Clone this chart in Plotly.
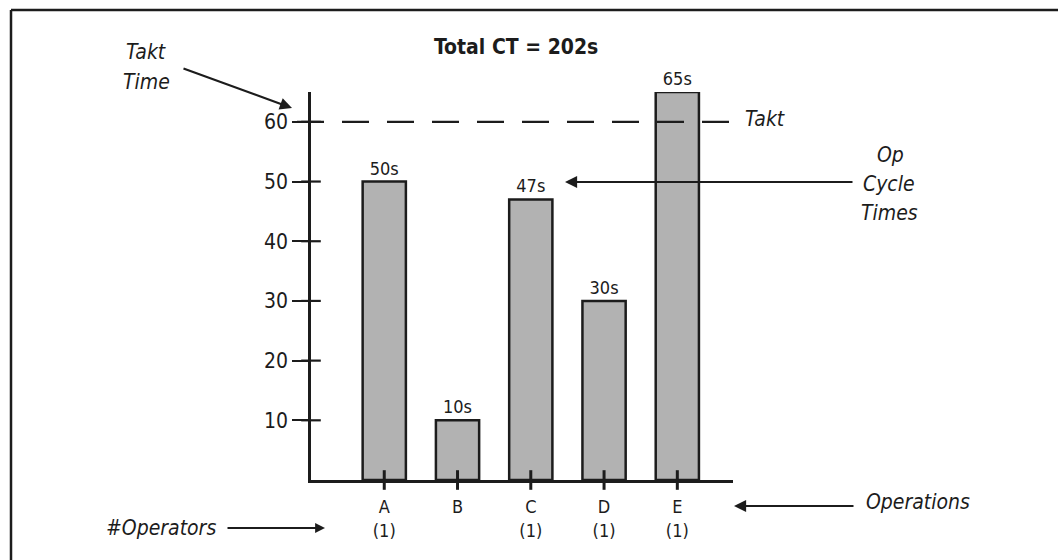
import plotly.graph_objects as go

# Operation cycle times (seconds) and operators per operation
operations = ["A", "B", "C", "D", "E"]
cycle_times = [50, 10, 47, 30, 65]
operators = ["(1)", "", "(1)", "(1)", "(1)"]
takt_time = 60
y_ticks = [10, 20, 30, 40, 50, 60]

total_ct = sum(cycle_times)

W, H = 1058, 560
L, R, T, B = 311, 733, 92, 480  # plot area in pixels
FONT = "DejaVu Sans Condensed, sans-serif"
INK = "#1c1c1c"


def px(x):
    return (x - L) / (R - L)


def py(y):
    return (B - y) / (B - T)


x_pos = list(range(len(operations)))
tick_text = [f"{o}<br>{n}" if n else o for o, n in zip(operations, operators)]

fig = go.Figure()

fig.add_trace(go.Bar(
    x=x_pos, y=cycle_times, width=0.59,
    marker=dict(color="#b2b2b2", line=dict(color=INK, width=2.5)),
    text=[f"{v}s" for v in cycle_times], textposition="outside",
    textfont=dict(family=FONT, size=18, color=INK),
    cliponaxis=False, showlegend=False, hoverinfo="skip",
))

# crossing tick marks on the y axis (left part drawn as axis ticks)
fig.add_trace(go.Scatter(
    x=[-1] * len(y_ticks), y=y_ticks, mode="markers",
    marker=dict(symbol="line-ew", size=14, line=dict(color=INK, width=2.2)),
    cliponaxis=False, showlegend=False, hoverinfo="skip",
))

# tick marks under each operation
fig.add_trace(go.Scatter(
    x=x_pos, y=[0] * len(x_pos), mode="markers",
    marker=dict(symbol="line-ns", size=14, line=dict(color=INK, width=3)),
    cliponaxis=False, showlegend=False, hoverinfo="skip",
))

# takt time line
fig.add_shape(type="line", xref="paper", yref="y",
              x0=px(297), x1=1.0, y0=takt_time, y1=takt_time,
              line=dict(color=INK, width=2.2, dash="27px,18px"), layer="above")

# outer frame (left and top edges)
fig.add_shape(type="line", xref="paper", yref="paper",
              x0=px(11), x1=px(11), y0=py(10), y1=py(575),
              line=dict(color=INK, width=2.5))
fig.add_shape(type="line", xref="paper", yref="paper",
              x0=px(11), x1=px(1075), y0=py(10), y1=py(10),
              line=dict(color=INK, width=2.5))


def arrow(tail, head, width=2.2):
    fig.add_annotation(
        xref="paper", yref="paper", x=px(head[0]), y=py(head[1]),
        ax=tail[0] - head[0], ay=tail[1] - head[1], axref="pixel", ayref="pixel",
        text="", showarrow=True, arrowhead=2, arrowsize=1.1, arrowwidth=width,
        arrowcolor=INK, standoff=0, startstandoff=0,
    )


def label(text, x, y, size=21, italic=True, bold=False):
    fig.add_annotation(
        xref="paper", yref="paper", x=px(x), y=py(y), text=text,
        showarrow=False, xanchor="center", yanchor="middle",
        font=dict(family=FONT, size=size, color=INK,
                  style="italic" if italic else "normal",
                  weight="bold" if bold else "normal"),
    )


label(f"Total CT = {total_ct}s", 516, 47, size=21, italic=False, bold=True)
label("Takt", 146, 52)
label("Time", 146, 82)
arrow((182, 68), (292, 108))
label("Takt", 765, 119)
label("Op", 890, 155)
label("Cycle", 889, 184)
label("Times", 889, 213)
arrow((854, 182), (565, 182))
label("Operations", 918, 502)
arrow((855, 506), (734, 506))
label("#Operators", 161, 528)
arrow((226, 528), (325, 528), width=1.8)

fig.update_layout(
    width=W, height=H,
    margin=dict(l=L, r=W - R, t=T, b=H - B, pad=0, autoexpand=False),
    paper_bgcolor="white", plot_bgcolor="white",
    bargap=0.4,
    font=dict(family=FONT, color=INK),
    xaxis=dict(
        range=[-1, 4.76], tickvals=x_pos, ticktext=tick_text,
        showline=True, linecolor=INK, linewidth=2.5,
        ticks="outside", ticklen=8, tickcolor="rgba(0,0,0,0)",
        ticklabelstandoff=1, automargin=False,
        showgrid=False, zeroline=False,
        tickfont=dict(family=FONT, size=18, color=INK),
        fixedrange=True,
    ),
    yaxis=dict(
        range=[0, 65], tickvals=y_ticks,
        showline=True, linecolor=INK, linewidth=2.5,
        ticks="outside", ticklen=16, tickcolor=INK, tickwidth=2.2,
        automargin=False,
        showgrid=False, zeroline=False,
        tickfont=dict(family=FONT, size=21, color=INK),
        fixedrange=True,
    ),
)

fig.write_html("out.html", config={"displayModeBar": False})
